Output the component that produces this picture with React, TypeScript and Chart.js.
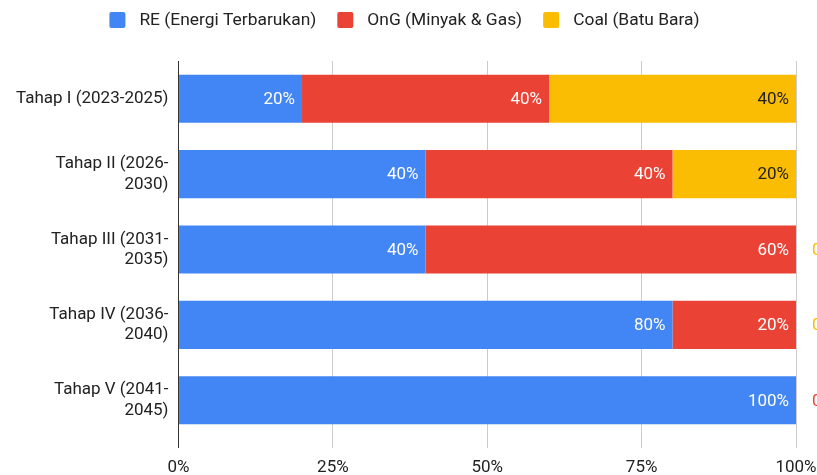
import React, { useEffect, useRef } from "react";
import { Chart, registerables } from "chart.js";

Chart.register(...registerables);

const categories: (string | string[])[] = [
  "Tahap I (2023-2025)",
  ["Tahap II (2026-", "2030)"],
  ["Tahap III (2031-", "2035)"],
  ["Tahap IV (2036-", "2040)"],
  ["Tahap V (2041-", "2045)"],
];
const seriesNames = ["RE (Energi Terbarukan)", "OnG (Minyak & Gas)", "Coal (Batu Bara)"];
const reValues = [20, 40, 40, 80, 100];
const ongValues = [40, 40, 60, 20, 0];
const coalValues = [40, 20, 0, 0, 0];
const xTicks = [0, 25, 50, 75, 100];

const colors = ["#4285F4", "#EA4335", "#FBBC04"];
const labelColors = ["#ffffff", "#ffffff", "#222222"];

const labelPlugin = {
  id: "barLabels",
  afterDatasetsDraw(chart: any) {
    const ctx = chart.ctx;
    ctx.save();
    ctx.font = "17px Roboto";
    ctx.textBaseline = "middle";
    const zeroDrawn: Record<number, boolean> = {};
    chart.data.datasets.forEach((ds: any, di: number) => {
      const meta = chart.getDatasetMeta(di);
      meta.data.forEach((el: any, i: number) => {
        const v = ds.data[i];
        const txt = v + "%";
        if (v > 0) {
          ctx.fillStyle = labelColors[di];
          ctx.textAlign = "right";
          ctx.fillText(txt, el.x - 7, el.y + 1);
        } else {
          if (zeroDrawn[i]) return;
          zeroDrawn[i] = true;
          ctx.fillStyle = colors[di];
          ctx.textAlign = "left";
          ctx.fillText(txt, el.x + 16, el.y + 1);
        }
      });
    });
    ctx.restore();
  },
};

const legendPlugin = {
  id: "customLegend",
  afterDraw(chart: any) {
    const ctx = chart.ctx;
    ctx.save();
    ctx.font = "17.4px Roboto";
    ctx.textBaseline = "middle";
    ctx.textAlign = "left";
    const box = 16;
    const gap = 14;
    const itemGap = 21;
    const widths = seriesNames.map((n) => ctx.measureText(n).width);
    const total =
      widths.reduce((a, w) => a + box + gap + w, 0) + itemGap * (seriesNames.length - 1);
    let x = 111 + (587 - total) / 2;
    const cy = 20;
    seriesNames.forEach((n, i) => {
      ctx.fillStyle = colors[i];
      ctx.beginPath();
      (ctx as any).roundRect(x, cy - box / 2, box, box, 2);
      ctx.fill();
      ctx.fillStyle = "#222";
      ctx.fillText(n, x + box + gap, cy + 1);
      x += box + gap + widths[i] + itemGap;
    });
    ctx.restore();
  },
};

export default function App() {
  const ref = useRef<HTMLCanvasElement>(null);
  useEffect(() => {
    document.body.style.margin = "0";
    const chart = new Chart(ref.current!, {
      type: "bar",
      data: {
        labels: categories,
        datasets: [reValues, ongValues, coalValues].map((d, i) => ({
          label: seriesNames[i],
          data: d,
          backgroundColor: colors[i],
          borderWidth: 0,
          barPercentage: 0.638,
          categoryPercentage: 1,
        })),
      },
      options: {
        indexAxis: "y",
        animation: false,
        responsive: false,
        maintainAspectRatio: false,
        layout: { padding: { left: 14, right: 21, top: 61, bottom: 0 } },
        plugins: {
          legend: { display: false },
          tooltip: { enabled: false },
        },
        scales: {
          x: {
            stacked: true,
            min: 0,
            max: 100,
            afterBuildTicks: (axis: any) => {
              axis.ticks = xTicks.map((v) => ({ value: v }));
            },
            afterFit: (s: any) => {
              s.paddingLeft = 0;
              s.paddingRight = 0;
              s.paddingTop = 0;
              s.paddingBottom = 0;
              s.height = 37;
            },
            ticks: {
              callback: (v: any) => v + "%",
              font: { family: "Roboto", size: 17 },
              color: "#222",
              padding: 10,
            },
            grid: {
              color: (c: any) => (c.index === 0 ? "#333" : "#ccc"),
              lineWidth: 1,
              tickLength: 10,
            },
            border: { display: false },
          },
          y: {
            stacked: true,
            afterFit: (s: any) => {
              s.paddingTop = 0;
              s.paddingBottom = 0;
            },
            ticks: {
              font: { family: "Roboto", size: 17 },
              color: "#222",
              padding: 2,
            },
            grid: { display: false },
            border: { display: false },
          },
        },
      },
      plugins: [labelPlugin, legendPlugin],
    } as any);
    return () => chart.destroy();
  }, []);
  return (
    <div style={{ width: 817, height: 475 }}>
      <canvas ref={ref} width={817} height={475} style={{ width: 817, height: 475 }} />
    </div>
  );
}
